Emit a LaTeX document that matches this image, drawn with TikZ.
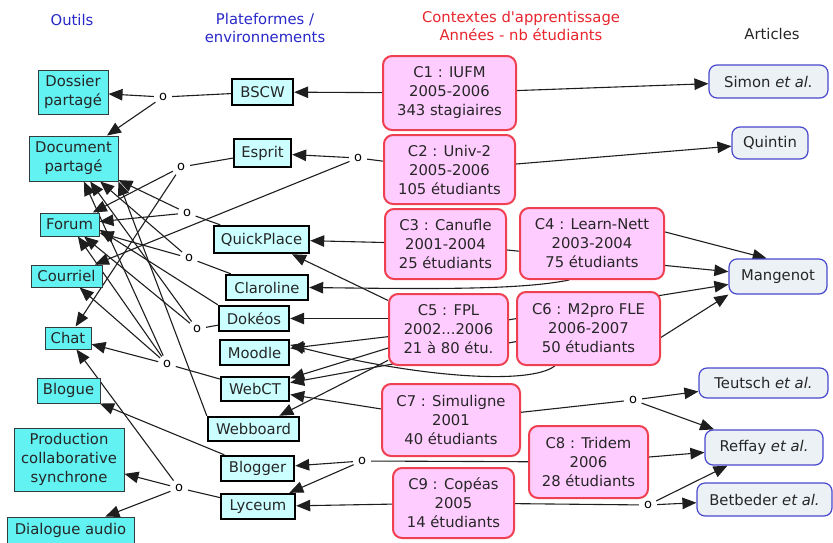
\documentclass[tikz,border=0pt]{standalone}
\usepackage{fontspec}
\setmainfont{DejaVu Sans}
\usetikzlibrary{arrows.meta,backgrounds}
\definecolor{toolfill}{RGB}{98,242,242}
\definecolor{toolline}{RGB}{50,60,60}
\definecolor{platfill}{RGB}{204,255,255}
\definecolor{ctxfill}{RGB}{255,204,255}
\definecolor{ctxline}{RGB}{238,64,80}
\definecolor{artfill}{RGB}{236,241,245}
\definecolor{artline}{RGB}{72,72,204}
\definecolor{hblue}{RGB}{40,40,200}
\definecolor{hred}{RGB}{232,36,44}
\definecolor{lncol}{RGB}{30,30,30}
\begin{document}
\begin{tikzpicture}[x=1pt,y=-1pt,
  font=\fontsize{14.8}{19}\selectfont,
  every node/.style={align=center, inner sep=0pt},
  tool/.style={draw=toolline, line width=1pt, fill=toolfill, text=black!85},
  plat/.style={draw=black, line width=2.4pt, fill=platfill, text=black!85},
  ctx/.style={draw=ctxline, line width=2pt, fill=ctxfill, rounded corners=9pt, text=black!85},
  art/.style={draw=artline, line width=1.2pt, fill=artfill, rounded corners=8pt, text=black!85},
  lk/.style={circle, inner sep=2.5pt, font=\fontsize{13}{15}\selectfont},
  hd/.style={font=\fontsize{14.8}{18}\selectfont},
  ln/.style={draw=lncol, line width=1.1pt},
  arr/.style={ln, -{Triangle[length=14pt,width=11.5pt]}}]
\path[use as bounding box] (0,0) rectangle (833,542);
% headers
\node[hd, text=hblue] (h1) at (72,20) {Outils};
\node[hd, text=hblue] (h2) at (265,28) {Plateformes /\\environnements};
\node[hd, text=hred] (h3) at (521,26) {Contextes d\textquotesingle apprentissage\\Années - nb étudiants};
\node[hd, text=black!85] (h4) at (772,34) {Articles};
% tools
\node[tool, minimum width=70pt, minimum height=44pt] (dossier) at (73,92) {Dossier\\partagé};
\node[tool, minimum width=89pt, minimum height=45pt] (doc) at (73.5,158.5) {Document\\partagé};
\node[tool, minimum width=59pt, minimum height=23pt] (forum) at (69.5,224.5) {Forum};
\node[tool, minimum width=71pt, minimum height=22pt] (courriel) at (66.5,276) {Courriel};
\node[tool, minimum width=46pt, minimum height=22pt] (chat) at (68,338) {Chat};
\node[tool, minimum width=63pt, minimum height=25pt] (blogue) at (68.5,390.5) {Blogue};
\node[tool, minimum width=110pt, minimum height=63pt] (prod) at (69,459.5) {Production\\collaborative\\synchrone};
\node[tool, minimum width=127pt, minimum height=26pt] (dialogue) at (70.5,530) {Dialogue audio};
% platforms
\node[plat, minimum width=61pt, minimum height=26pt] (bscw) at (262.5,92) {BSCW};
\node[plat, minimum width=57pt, minimum height=28pt] (esprit) at (262.5,153) {Esprit};
\node[plat, minimum width=95pt, minimum height=27pt] (quick) at (261.5,239.5) {QuickPlace};
\node[plat, minimum width=82pt, minimum height=25pt] (claro) at (267,287.5) {Claroline};
\node[plat, minimum width=70pt, minimum height=25pt] (dokeos) at (254,318.5) {Dokéos};
\node[plat, minimum width=69pt, minimum height=25pt] (moodle) at (254.5,352.5) {Moodle};
\node[plat, minimum width=68pt, minimum height=24pt] (webct) at (255,389) {WebCT};
\node[plat, minimum width=91pt, minimum height=24pt] (webboard) at (253.5,429) {Webboard};
\node[plat, minimum width=73pt, minimum height=25pt] (blogger) at (257.5,468.5) {Blogger};
\node[plat, minimum width=74pt, minimum height=25pt] (lyceum) at (258,506.5) {Lyceum};
% contexts
\node[ctx, minimum width=133pt, minimum height=74pt] (c1) at (449.5,93) {C1 : IUFM\\2005-2006\\343 stagiaires};
\node[ctx, minimum width=131pt, minimum height=69pt] (c2) at (449.5,169.5) {C2 : Univ-2\\2005-2006\\105 étudiants};
\node[ctx, minimum width=121pt, minimum height=70pt] (c3) at (445.5,244) {C3 : Canufle\\2001-2004\\25 étudiants};
\node[ctx, minimum width=144pt, minimum height=71pt] (c4) at (592,243.5) {C4 : Learn-Nett\\2003-2004\\75 étudiants};
\node[ctx, minimum width=119pt, minimum height=71pt] (c5) at (448.5,329.5) {C5 : FPL\\2002...2006\\21 à 80 étu.};
\node[ctx, minimum width=143pt, minimum height=73pt] (c6) at (588.5,328.5) {C6 : M2pro FLE\\2006-2007\\50 étudiants};
\node[ctx, minimum width=138pt, minimum height=72pt] (c7) at (451,420) {C7 : Simuligne\\2001\\40 étudiants};
\node[ctx, minimum width=119pt, minimum height=72pt] (c8) at (588.5,462) {C8 : Tridem\\2006\\28 étudiants};
\node[ctx, minimum width=121pt, minimum height=70pt] (c9) at (453.5,503) {C9 : Copéas\\2005\\14 étudiants};
% articles
\node[art, minimum width=119pt, minimum height=33pt] (simon) at (768.5,81.5) {Simon \textit{et al.}};
\node[art, minimum width=76pt, minimum height=32pt] (quintin) at (770,143) {Quintin};
\node[art, minimum width=98pt, minimum height=35pt] (mang) at (778,276.5) {Mangenot};
\node[art, minimum width=129pt, minimum height=30pt] (teutsch) at (763.5,383) {Teutsch \textit{et al.}};
\node[art, minimum width=118pt, minimum height=35pt] (reffay) at (764,447.5) {Reffay \textit{et al.}};
\node[art, minimum width=135pt, minimum height=33pt] (betbeder) at (764.5,499.5) {Betbeder \textit{et al.}};
% linking phrases
\node[lk] (o1) at (163,97) {o};
\node[lk] (o2) at (358,158) {o};
\node[lk] (o3) at (181,167) {o};
\node[lk] (o4) at (187,213) {o};
\node[lk] (o5) at (189,258) {o};
\node[lk] (o6) at (197,329) {o};
\node[lk] (o7) at (167,364) {o};
\node[lk] (o8) at (179,488) {o};
\node[lk] (o9) at (362,461) {o};
\node[lk] (o10) at (633,400) {o};
\node[lk] (o11) at (648,505) {o};
\begin{pgfonlayer}{background}
% contexts -> platforms / articles
\draw[arr] (c1) -- (bscw);
\draw[arr] (c1) -- (simon);
\draw[ln] (c2) -- (o2);
\draw[arr] (o2) -- (esprit);
\draw[arr] (o2) -- (courriel);
\draw[arr] (c2) -- (quintin);
\draw[arr] (c3) -- (quick);
\draw[arr] (c3) -- (mang);
\draw[arr] (c4.9) -- (mang.122);
\draw[arr] (c4.-122) .. controls (520,290) and (430,289) .. (claro.east);
\draw[arr] (c5) -- (quick);
\draw[arr] (c5.west |- dokeos) -- (dokeos);
\draw[arr] (c5) -- (moodle);
\draw[arr] (c5) -- (webct);
\draw[arr] (c5) -- (webboard);
\draw[arr] (c5) -- (mang);
\draw[arr] (c6.-132) .. controls (530,385) and (420,378) .. (moodle.12);
\draw[arr] (c6) -- (webct);
\draw[arr] (c6.-7) -- (mang.south west);
\draw[arr] (c7) -- (webct);
\draw[ln] (c7) -- (o10);
\draw[arr] (o10) -- (teutsch);
\draw[arr] (o10) -- (reffay);
\draw[ln] (c8) -- (o9);
\draw[arr] (o9) -- (blogger);
\draw[arr] (o9) -- (lyceum);
\draw[arr] (c8) -- (reffay);
\draw[arr] (c9) -- (lyceum);
\draw[ln] (c9) -- (o11);
\draw[arr] (o11) -- (betbeder);
\draw[arr] (o11) -- (reffay);
% platforms -> tools
\draw[ln] (bscw) -- (o1);
\draw[arr] (o1) -- (dossier);
\draw[arr] (o1) -- (doc);
\draw[ln] (esprit) -- (o3);
\draw[arr] (o3) -- (forum);
\draw[arr] (o3) -- (chat);
\draw[ln] (quick) -- (o4);
\draw[arr] (o4) -- (forum);
\draw[arr] (o4) -- (doc);
\draw[ln] (claro) -- (o5);
\draw[arr] (o5) -- (forum);
\draw[arr] (o5) -- (doc);
\draw[ln] (dokeos) -- (o6);
\draw[arr] (o6) -- (forum);
\draw[arr] (o6) -- (doc);
\draw[arr] (dokeos.north west) -- (forum.-10);
\draw[ln] (webct) -- (o7);
\draw[arr] (o7) -- (doc);
\draw[arr] (o7) -- (forum);
\draw[arr] (o7) -- (courriel);
\draw[arr] (o7) -- (chat);
\draw[arr] (webboard.north west) -- (doc.south east);
\draw[arr] (blogger) -- (blogue);
\draw[ln] (lyceum) -- (o8);
\draw[arr] (o8) -- (prod);
\draw[arr] (o8) -- (dialogue);
\draw[arr] (o8) -- (chat);
\end{pgfonlayer}
\end{tikzpicture}
\end{document}
